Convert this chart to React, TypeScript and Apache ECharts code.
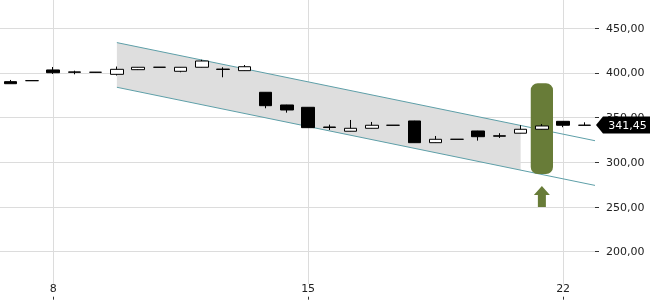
import React, { useEffect, useRef } from 'react';
import * as echarts from 'echarts';

// x tick labels (one entry per candle)
const xLabels = ['', '', '8', '', '', '', '', '', '', '', '', '', '', '', '15', '', '', '', '', '', '', '', '', '', '', '', '22', ''];
const categories = xLabels.map((l, i) => (l ? l : `c${i}`));

// OHLC values
const opens = [390.3, 391.4, 403.4, 401.2, 400.8, 398.5, 403.7, 406.4, 401.9, 406.4, 404.3, 402.6, 378.4, 364.2, 361.6, 339.5, 334.8, 338.1, 341.5, 346.3, 322.0, 325.8, 335.1, 329.7, 332.6, 337.0, 345.9, 341.6];
const closes = [388.0, 391.4, 400.3, 400.8, 400.8, 404.1, 406.4, 406.4, 406.4, 413.4, 404.0, 407.0, 363.4, 358.6, 338.8, 339.1, 338.1, 341.5, 341.5, 322.0, 325.8, 325.8, 328.7, 329.3, 337.0, 340.7, 341.5, 341.45];
const lows = [388.0, 391.4, 398.9, 398.5, 400.6, 397.2, 403.3, 406.4, 400.8, 406.2, 395.2, 402.4, 360.5, 355.6, 338.6, 336.2, 334.6, 337.9, 341.5, 321.8, 321.8, 325.8, 324.3, 327.3, 332.4, 336.8, 339.3, 341.2];
const highs = [392.2, 391.4, 406.7, 402.6, 401.0, 407.2, 406.6, 406.4, 406.6, 414.8, 406.4, 408.9, 378.6, 364.4, 361.8, 342.2, 347.4, 345.2, 341.5, 346.5, 329.5, 325.8, 335.3, 332.6, 341.5, 342.9, 346.1, 344.8];

// trend channel
const channelX = [5, 27.5];
const channelUpper = [434.0, 324.2];
const channelLower = [384.0, 274.2];
const channelFillEnd = 24;

// highlight + signal arrow
const highlightIndex = 25;
const highlightRange = [287, 388.5];
const arrowTipValue = 273.6;

// y ticks
const yMin = 200;
const yMax = 450;
const yStep = 50;

const fmt = (v: number) => v.toFixed(2).replace('.', ',');
const lerp = (arr: number[], x: number) =>
  arr[0] + ((arr[1] - arr[0]) * (x - channelX[0])) / (channelX[1] - channelX[0]);

const TEAL = '#5e9fa8';
const OLIVE = '#687c38';

export default function App() {
  const ref = useRef<HTMLDivElement>(null);
  useEffect(() => {
    if (!ref.current) return;
    const chart = echarts.init(ref.current, null, { renderer: 'svg' });
    const lastIdx = closes.length - 1;
    const option: any = {
      animation: false,
      textStyle: { fontFamily: 'DejaVu Sans' },
      grid: { left: 0, right: 55, top: 28.3, bottom: 48.3, containLabel: false, outerBoundsMode: 'none' },
      xAxis: [
        {
          type: 'category',
          data: categories,
          boundaryGap: true,
          offset: 45,
          axisLine: { show: false, onZero: false },
          axisTick: {
            show: true,
            alignWithLabel: true,
            interval: (i: number) => xLabels[i] !== '',
            length: 3,
            lineStyle: { color: '#333' },
          },
          axisLabel: {
            inside: true,
            interval: 0,
            margin: 3,
            formatter: (_v: string, i: number) => xLabels[i],
            color: '#222',
            fontSize: 11,
          },
          splitLine: { show: false },
        },
        { type: 'value', min: -0.5, max: xLabels.length - 0.5, show: false, axisLine: { onZero: false } },
      ],
      yAxis: {
        type: 'value',
        position: 'right',
        min: yMin,
        max: yMax,
        interval: yStep,
        axisLine: { show: false, onZero: false },
        axisTick: { show: true, length: 4, lineStyle: { color: '#333' } },
        axisLabel: { margin: 11, formatter: (v: number) => fmt(v), color: '#222', fontSize: 11 },
        splitLine: { lineStyle: { color: '#dcdcdc' } },
      },
      series: [
        {
          type: 'custom',
          xAxisIndex: 1,
          z: 1,
          clip: false,
          silent: true,
          data: xLabels.map((l, i) => [i, l ? 1 : 0]).filter((d) => d[1] === 1).map((d) => [d[0], yMin]),
          renderItem: (params: any, api: any) => {
            const x = Math.round(api.coord([api.value(0), yMin])[0]) + 0.5;
            return {
              type: 'line',
              shape: { x1: x, y1: 0, x2: x, y2: api.getHeight() - 16 },
              style: { stroke: '#dcdcdc', lineWidth: 1 },
            };
          },
        },
        {
          type: 'custom',
          xAxisIndex: 1,
          z: 2,
          silent: true,
          data: [[channelX[0], channelFillEnd]],
          renderItem: (params: any, api: any) => {
            const x0 = api.value(0);
            const x1 = api.value(1);
            const pts = [
              api.coord([x0, lerp(channelUpper, x0)]),
              api.coord([x1, lerp(channelUpper, x1)]),
              api.coord([x1, lerp(channelLower, x1)]),
              api.coord([x0, lerp(channelLower, x0)]),
            ];
            return { type: 'polygon', shape: { points: pts }, style: { fill: '#dedede' } };
          },
        },
        {
          type: 'line',
          xAxisIndex: 1,
          z: 3,
          silent: true,
          symbol: 'none',
          lineStyle: { color: TEAL, width: 1 },
          data: [[channelX[0], channelUpper[0]], [channelX[1], channelUpper[1]]],
        },
        {
          type: 'line',
          xAxisIndex: 1,
          z: 3,
          silent: true,
          symbol: 'none',
          lineStyle: { color: TEAL, width: 1 },
          data: [[channelX[0], channelLower[0]], [channelX[1], channelLower[1]]],
        },
        {
          type: 'custom',
          xAxisIndex: 1,
          z: 4,
          silent: true,
          clip: false,
          data: [[highlightIndex, highlightRange[0], highlightRange[1], arrowTipValue]],
          renderItem: (params: any, api: any) => {
            const i = api.value(0);
            const top = api.coord([i, api.value(2)]);
            const bot = api.coord([i, api.value(1)]);
            const w = api.size([1, 0])[0] + 1;
            const tip = api.coord([i, api.value(3)]);
            const cx = tip[0];
            const ty = tip[1];
            return {
              type: 'group',
              children: [
                {
                  type: 'rect',
                  shape: { x: top[0] - w / 2, y: top[1], width: w, height: bot[1] - top[1], r: 7 },
                  style: { fill: OLIVE },
                },
                {
                  type: 'polygon',
                  shape: {
                    points: [
                      [cx, ty],
                      [cx + 8, ty + 9],
                      [cx + 4, ty + 9],
                      [cx + 4, ty + 21],
                      [cx - 4, ty + 21],
                      [cx - 4, ty + 9],
                      [cx - 8, ty + 9],
                    ],
                  },
                  style: { fill: OLIVE },
                },
              ],
            };
          },
        },
        {
          type: 'candlestick',
          xAxisIndex: 0,
          z: 5,
          barWidth: 13,
          silent: true,
          itemStyle: {
            color: '#ffffff',
            color0: '#000000',
            borderColor: '#000000',
            borderColor0: '#000000',
            borderColorDoji: '#000000',
            borderWidth: 1,
          },
          data: opens.map((o, i) => [o, closes[i], lows[i], highs[i]]),
        },
        {
          type: 'custom',
          xAxisIndex: 1,
          z: 6,
          clip: false,
          silent: true,
          data: [[lastIdx, closes[lastIdx]]],
          renderItem: (params: any, api: any) => {
            const p = api.coord([api.value(0), api.value(1)]);
            const y = Math.round(p[1]);
            const x0 = params.coordSys.x + params.coordSys.width + 1;
            const W = api.getWidth();
            return {
              type: 'group',
              children: [
                {
                  type: 'polygon',
                  shape: {
                    points: [
                      [x0, y],
                      [x0 + 7, y - 8.5],
                      [W, y - 8.5],
                      [W, y + 8.5],
                      [x0 + 7, y + 8.5],
                    ],
                  },
                  style: { fill: '#000' },
                },
                {
                  type: 'text',
                  x: (x0 + 7 + W) / 2 + 1,
                  y: y + 0.5,
                  style: {
                    text: fmt(api.value(1)),
                    fill: '#fff',
                    font: '11px "DejaVu Sans"',
                    align: 'center',
                    verticalAlign: 'middle',
                  },
                },
              ],
            };
          },
        },
      ],
    };
    chart.setOption(option);
    return () => chart.dispose();
  }, []);
  return <div ref={ref} style={{ position: 'fixed', left: 0, top: 0, width: 650, height: 300 }} />;
}
